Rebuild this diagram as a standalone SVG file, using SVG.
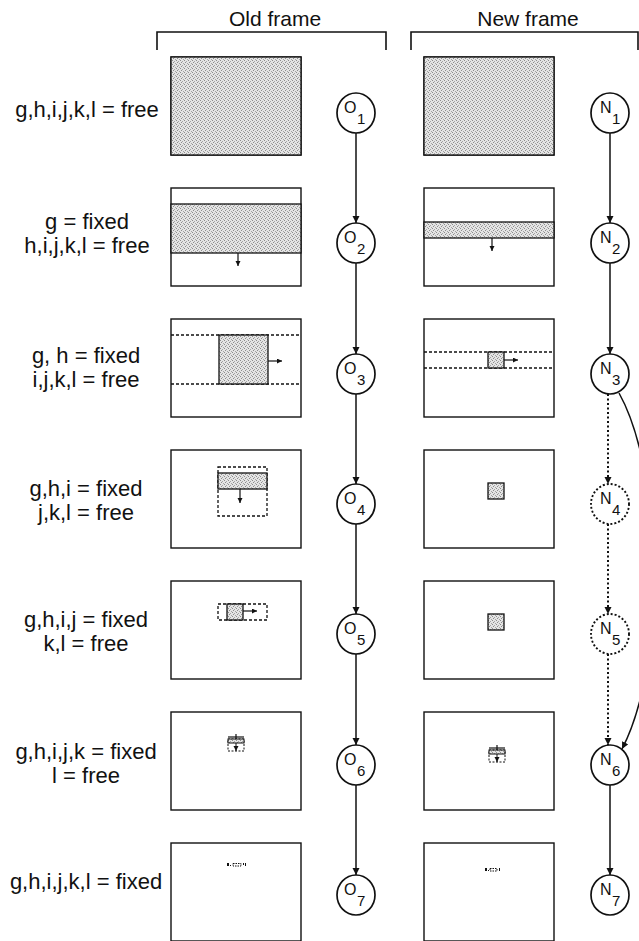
<svg xmlns="http://www.w3.org/2000/svg" width="639" height="941" viewBox="0 0 639 941">
<style>
.lbl{font-family:"Liberation Sans",Arial,sans-serif;font-size:22px;fill:#111;text-anchor:middle}
.hdr{font-family:"Liberation Sans",Arial,sans-serif;font-size:21px;fill:#111;text-anchor:middle}
.nt{font-family:"Liberation Sans",Arial,sans-serif;font-size:16px;fill:#111}
.ns{font-family:"Liberation Sans",Arial,sans-serif;font-size:15px;fill:#111}
.frame{fill:#fff;stroke:#111;stroke-width:1.4}
.shade{fill:url(#stip);stroke:#111;stroke-width:1.3}
.dash{stroke:#111;stroke-width:1.3;fill:none;stroke-dasharray:3 2}
.circ{fill:#fff;stroke:#111;stroke-width:1.7}
.circd{fill:#fff;stroke:#111;stroke-width:1.9;stroke-dasharray:2 2}
.conn{stroke:#111;stroke-width:1.5;fill:none}
.connd{stroke:#111;stroke-width:2;fill:none;stroke-dasharray:2 2.5}
.small{stroke:#111;stroke-width:1.2;fill:none}
.brk{stroke:#111;stroke-width:1.6;fill:none}
.mk{fill:#111;stroke:none}
</style>
<defs>
<pattern id="stip" width="4" height="4" patternUnits="userSpaceOnUse">
<rect width="4" height="4" fill="#e4e4e4"/>
<rect x="0" y="0" width="1" height="1" fill="#8c8c8c"/>
<rect x="2" y="1" width="1" height="1" fill="#a4a4a4"/>
<rect x="1" y="2" width="1" height="1" fill="#8c8c8c"/>
<rect x="3" y="3" width="1" height="1" fill="#a4a4a4"/>
</pattern>
<marker id="ah" markerWidth="8" markerHeight="8" refX="7" refY="3.5" orient="auto" markerUnits="userSpaceOnUse">
<path d="M0,0 L7,3.5 L0,7 z" fill="#111"/>
</marker>
<marker id="sah" markerWidth="6" markerHeight="6" refX="5" refY="2.5" orient="auto" markerUnits="userSpaceOnUse">
<path d="M0,0 L5,2.5 L0,5 z" fill="#111"/>
</marker>
</defs>

<g id="headers">
<text class="hdr" x="275" y="26">Old frame</text>
<text class="hdr" x="528" y="26">New frame</text>
<path class="brk" d="M157,50 V32 H386 V50"/>
<path class="brk" d="M411,50 V32 H638 V50"/>
</g>

<g id="labels">
<text class="lbl" x="87" y="117">g,h,i,j,k,l = free</text>
<text class="lbl" x="87" y="229">g = fixed</text>
<text class="lbl" x="87" y="253">h,i,j,k,l = free</text>
<text class="lbl" x="86" y="363">g, h = fixed</text>
<text class="lbl" x="86" y="387">i,j,k,l = free</text>
<text class="lbl" x="86" y="496">g,h,i = fixed</text>
<text class="lbl" x="86" y="520">j,k,l = free</text>
<text class="lbl" x="86" y="627">g,h,i,j = fixed</text>
<text class="lbl" x="86" y="651">k,l = free</text>
<text class="lbl" x="86" y="759">g,h,i,j,k = fixed</text>
<text class="lbl" x="86" y="783">l = free</text>
<text class="lbl" x="86" y="889">g,h,i,j,k,l = fixed</text>
</g>

<g id="old-frame-1">
<rect class="frame" x="171" y="57" width="130" height="98"/>
<rect class="shade" x="171" y="57" width="130" height="98"/>
</g>
<g id="new-frame-1">
<rect class="frame" x="424" y="57" width="130" height="98"/>
<rect class="shade" x="424" y="57" width="130" height="98"/>
</g>

<g id="old-frame-2">
<rect class="frame" x="171" y="188" width="130" height="98"/>
<rect class="shade" x="171" y="204" width="130" height="49"/>
<line class="small" x1="238" y1="253" x2="238" y2="266" marker-end="url(#sah)"/>
</g>
<g id="new-frame-2">
<rect class="frame" x="424" y="188" width="130" height="98"/>
<rect class="shade" x="424" y="222" width="130" height="16"/>
<line class="small" x1="492" y1="238" x2="492" y2="251" marker-end="url(#sah)"/>
</g>

<g id="old-frame-3">
<rect class="frame" x="171" y="319" width="130" height="98"/>
<line class="dash" x1="171" y1="335" x2="301" y2="335"/>
<line class="dash" x1="171" y1="384" x2="301" y2="384"/>
<rect class="shade" x="219" y="335" width="49" height="49"/>
<line class="small" x1="268" y1="361" x2="282" y2="361" marker-end="url(#sah)"/>
</g>
<g id="new-frame-3">
<rect class="frame" x="424" y="319" width="130" height="98"/>
<line class="dash" x1="424" y1="352" x2="554" y2="352"/>
<line class="dash" x1="424" y1="368" x2="554" y2="368"/>
<rect class="shade" x="488" y="352" width="16" height="16"/>
<line class="small" x1="504" y1="360" x2="518" y2="360" marker-end="url(#sah)"/>
</g>

<g id="old-frame-4">
<rect class="frame" x="171" y="450" width="130" height="98"/>
<rect class="dash" x="218" y="467" width="49" height="49"/>
<rect class="shade" x="218" y="473" width="49" height="16"/>
<line class="small" x1="240" y1="489" x2="240" y2="503" marker-end="url(#sah)"/>
</g>
<g id="new-frame-4">
<rect class="frame" x="424" y="450" width="130" height="98"/>
<rect class="shade" x="488" y="483" width="16" height="16"/>
</g>

<g id="old-frame-5">
<rect class="frame" x="171" y="581" width="130" height="98"/>
<rect class="dash" x="218" y="604" width="49" height="16"/>
<rect class="shade" x="227" y="604" width="16" height="16"/>
<line class="small" x1="243" y1="611" x2="257" y2="611" marker-end="url(#sah)"/>
</g>
<g id="new-frame-5">
<rect class="frame" x="424" y="581" width="130" height="98"/>
<rect class="shade" x="488" y="614" width="16" height="16"/>
</g>

<g id="old-frame-6">
<rect class="frame" x="171" y="712" width="130" height="98"/>
<line class="small" x1="236" y1="734" x2="236" y2="740"/>
<line class="small" x1="228" y1="737" x2="244" y2="737"/>
<rect class="dash" x="228" y="739" width="16" height="12" style="stroke-width:1;stroke-dasharray:2 1.5"/>
<rect class="shade" x="228" y="739" width="16" height="4" style="stroke-width:1"/>
<line class="small" x1="236" y1="743" x2="236" y2="751" style="stroke-width:1" marker-end="url(#sah)"/>
</g>
<g id="new-frame-6">
<rect class="frame" x="424" y="712" width="130" height="98"/>
<line class="small" x1="497" y1="745" x2="497" y2="751"/>
<line class="small" x1="489" y1="748" x2="505" y2="748"/>
<rect class="dash" x="489" y="750" width="16" height="12" style="stroke-width:1;stroke-dasharray:2 1.5"/>
<rect class="shade" x="489" y="750" width="16" height="4" style="stroke-width:1"/>
<line class="small" x1="497" y1="754" x2="497" y2="762" style="stroke-width:1" marker-end="url(#sah)"/>
</g>

<g id="old-frame-7">
<rect class="frame" x="171" y="843" width="130" height="98"/>
<rect class="mk" x="227" y="863" width="2" height="3"/>
<rect class="mk" x="230" y="865" width="1" height="1"/>
<rect class="dash" x="233" y="863.5" width="8" height="2.5" style="stroke-width:1;stroke-dasharray:1.5 1"/>
<rect class="mk" x="243" y="863" width="1" height="2"/>
<rect class="mk" x="245" y="863" width="1" height="3"/>
</g>
<g id="new-frame-7">
<rect class="frame" x="424" y="843" width="130" height="98"/>
<rect class="mk" x="485" y="868" width="2" height="3"/>
<rect class="mk" x="488" y="870" width="1" height="1"/>
<rect class="dash" x="490" y="868.5" width="7" height="2.5" style="stroke-width:1;stroke-dasharray:1.5 1"/>
<rect class="mk" x="499" y="868" width="1" height="3"/>
</g>

<g id="connectors">
<line class="conn" x1="356" y1="133" x2="356" y2="223" marker-end="url(#ah)"/>
<line class="conn" x1="356" y1="263" x2="356" y2="354" marker-end="url(#ah)"/>
<line class="conn" x1="356" y1="394" x2="356" y2="484" marker-end="url(#ah)"/>
<line class="conn" x1="356" y1="524" x2="356" y2="614" marker-end="url(#ah)"/>
<line class="conn" x1="356" y1="654" x2="356" y2="745" marker-end="url(#ah)"/>
<line class="conn" x1="356" y1="785" x2="356" y2="875" marker-end="url(#ah)"/>
<line class="conn" x1="610" y1="133" x2="610" y2="223" marker-end="url(#ah)"/>
<line class="conn" x1="610" y1="263" x2="610" y2="354" marker-end="url(#ah)"/>
<line class="connd" x1="608" y1="394" x2="608" y2="484" marker-end="url(#ah)"/>
<line class="connd" x1="608" y1="524" x2="608" y2="614" marker-end="url(#ah)"/>
<line class="connd" x1="608" y1="654" x2="608" y2="745" marker-end="url(#ah)"/>
<line class="conn" x1="610" y1="785" x2="610" y2="875" marker-end="url(#ah)"/>
<path class="conn" d="M619,393 C662,470 668,660 622,749" marker-end="url(#ah)"/>
</g>

<g id="O1"><ellipse class="circ" cx="356" cy="113" rx="19" ry="20"/><text class="nt" x="344" y="113">O</text><text class="ns" x="357" y="124">1</text></g>
<g id="O2"><ellipse class="circ" cx="356" cy="243" rx="19" ry="20"/><text class="nt" x="344" y="243">O</text><text class="ns" x="357" y="254">2</text></g>
<g id="O3"><ellipse class="circ" cx="356" cy="374" rx="19" ry="20"/><text class="nt" x="344" y="374">O</text><text class="ns" x="357" y="385">3</text></g>
<g id="O4"><ellipse class="circ" cx="356" cy="504" rx="19" ry="20"/><text class="nt" x="344" y="504">O</text><text class="ns" x="357" y="515">4</text></g>
<g id="O5"><ellipse class="circ" cx="356" cy="634" rx="19" ry="20"/><text class="nt" x="344" y="634">O</text><text class="ns" x="357" y="645">5</text></g>
<g id="O6"><ellipse class="circ" cx="356" cy="765" rx="19" ry="20"/><text class="nt" x="344" y="765">O</text><text class="ns" x="357" y="776">6</text></g>
<g id="O7"><ellipse class="circ" cx="356" cy="895" rx="19" ry="20"/><text class="nt" x="344" y="895">O</text><text class="ns" x="357" y="906">7</text></g>

<g id="N1"><ellipse class="circ" cx="610" cy="113" rx="19" ry="20"/><text class="nt" x="600" y="113">N</text><text class="ns" x="612" y="124">1</text></g>
<g id="N2"><ellipse class="circ" cx="610" cy="243" rx="19" ry="20"/><text class="nt" x="600" y="243">N</text><text class="ns" x="612" y="254">2</text></g>
<g id="N3"><ellipse class="circ" cx="610" cy="374" rx="19" ry="20"/><text class="nt" x="600" y="374">N</text><text class="ns" x="612" y="385">3</text></g>
<g id="N4"><ellipse class="circd" cx="610" cy="504" rx="19" ry="20"/><text class="nt" x="600" y="504">N</text><text class="ns" x="612" y="515">4</text></g>
<g id="N5"><ellipse class="circd" cx="610" cy="634" rx="19" ry="20"/><text class="nt" x="600" y="634">N</text><text class="ns" x="612" y="645">5</text></g>
<g id="N6"><ellipse class="circ" cx="610" cy="765" rx="19" ry="20"/><text class="nt" x="600" y="765">N</text><text class="ns" x="612" y="776">6</text></g>
<g id="N7"><ellipse class="circ" cx="610" cy="895" rx="19" ry="20"/><text class="nt" x="600" y="895">N</text><text class="ns" x="612" y="906">7</text></g>
</svg>
